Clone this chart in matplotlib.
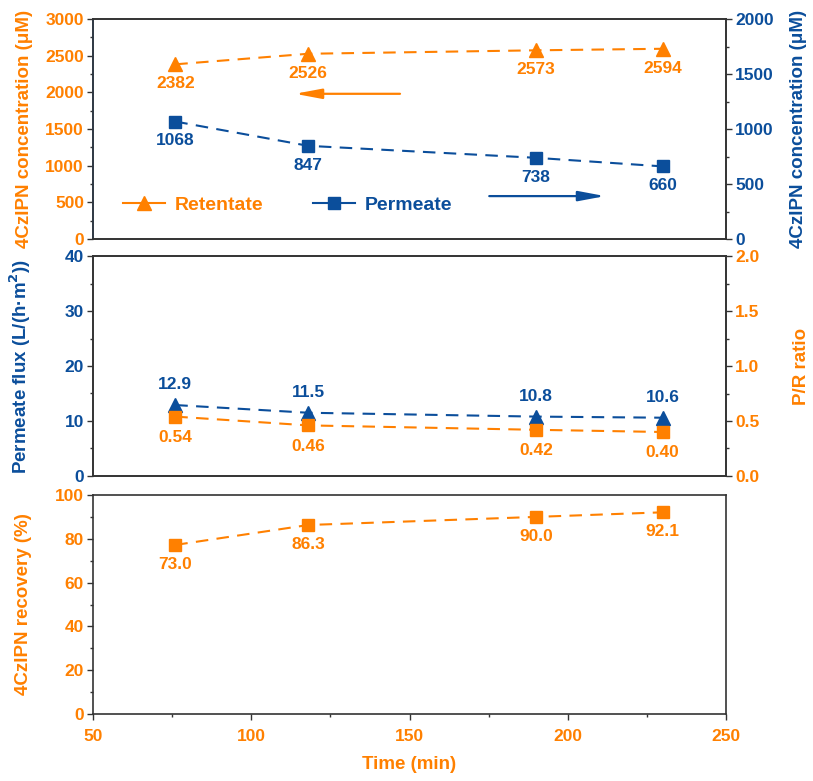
import matplotlib.pyplot as plt
from matplotlib.lines import Line2D
from matplotlib.ticker import MultipleLocator

plt.rcParams['font.family'] = ['Liberation Sans', 'DejaVu Sans']
plt.rcParams['font.weight'] = 'bold'

ORANGE = '#FF8000'
BLUE = '#0B4E9B'
SPINE = '#333333'

# data
time = [76, 118, 190, 230]
retentate = [2382, 2526, 2573, 2594]
permeate = [1068, 847, 738, 660]
flux = [12.9, 11.5, 10.8, 10.6]
pr_ratio = [0.54, 0.46, 0.42, 0.40]
recovery = [77.2, 86.3, 90.0, 92.1]
recovery_labels = ['73.0', '86.3', '90.0', '92.1']

fig = plt.figure(figsize=(8.13, 7.81), dpi=100)
left, width = 93 / 813, 633 / 813
TICK_FS = 12.5
ANN_FS = 12.5
LAB_FS = 13.5


def pos(top_px, bot_px):
    return [left, 1 - bot_px / 781, width, (bot_px - top_px) / 781]


def style_axis(ax, color, which='y'):
    ax.tick_params(axis=which, which='both', direction='out', colors=SPINE,
                   labelcolor=color, labelsize=TICK_FS, pad=2)
    ax.tick_params(axis=which, which='major', length=4.5, width=1)
    ax.tick_params(axis=which, which='minor', length=2.5, width=1)
    for s in ax.spines.values():
        s.set_color(SPINE)
        s.set_linewidth(1.2)


def label_points(ax, xs, ys, texts, color, dy):
    for x, y, s in zip(xs, ys, texts):
        ax.annotate(s, (x, y), xytext=(0, dy), textcoords='offset points',
                    ha='center', va='center', color=color, fontsize=ANN_FS,
                    fontweight='bold')


line_kw = dict(linestyle=(0, (6, 4)), linewidth=1.5)

# ---- top panel: concentrations
ax1 = fig.add_axes(pos(19, 239))
ax1b = ax1.twinx()
ax1.plot(time, retentate, color=ORANGE, marker='^', markersize=10, **line_kw)
ax1b.plot(time, permeate, color=BLUE, marker='s', markersize=8, **line_kw)
label_points(ax1, time, retentate, [str(v) for v in retentate], ORANGE, -14)
label_points(ax1b, time, permeate, [str(v) for v in permeate], BLUE, -14)
ax1.set_xlim(50, 250)
ax1.set_ylim(0, 3000)
ax1b.set_ylim(0, 2000)
ax1.yaxis.set_major_locator(MultipleLocator(500))
ax1.yaxis.set_minor_locator(MultipleLocator(250))
ax1b.yaxis.set_major_locator(MultipleLocator(500))
ax1b.yaxis.set_minor_locator(MultipleLocator(250))
style_axis(ax1, ORANGE)
style_axis(ax1b, BLUE)
ax1.spines['left'].set_color(BLUE)
ax1.set_xticks([])
ax1b.set_xticks([])
ax1.set_ylabel('4CzIPN concentration (μM)', color=ORANGE, fontsize=LAB_FS,
               fontweight='bold')
ax1.yaxis.set_label_coords(-0.095, 0.5)
ax1b.set_ylabel('4CzIPN concentration (μM)', color=BLUE, fontsize=LAB_FS,
                fontweight='bold')
ax1b.yaxis.set_label_coords(1.101, 0.5)
arrow = dict(arrowstyle='-|>,head_length=0.8,head_width=0.15', lw=1.6,
             mutation_scale=20, shrinkA=0, shrinkB=0)
ax1.annotate('', xy=(0.319, 0.66), xytext=(0.485, 0.66), xycoords='axes fraction',
             arrowprops=dict(color=ORANGE, **arrow))
ax1.annotate('', xy=(0.809, 0.195), xytext=(0.626, 0.195), xycoords='axes fraction',
             arrowprops=dict(color=BLUE, **arrow))
handles = [Line2D([], [], color=ORANGE, marker='^', markersize=10, lw=1.5),
           Line2D([], [], color=BLUE, marker='s', markersize=8, lw=1.5)]
leg = ax1.legend(handles, ['Retentate', 'Permeate'], loc='center left',
                 bbox_to_anchor=(0.047, 0.155), borderaxespad=0, borderpad=0,
                 ncol=2, frameon=False, fontsize=14, handlelength=2.15,
                 columnspacing=2.6, handletextpad=0.5)
for t, c in zip(leg.get_texts(), [ORANGE, BLUE]):
    t.set_color(c)

# ---- middle panel: flux and P/R ratio
ax2 = fig.add_axes(pos(256, 476))
ax2b = ax2.twinx()
ax2.plot(time, flux, color=BLUE, marker='^', markersize=10, **line_kw)
ax2b.plot(time, pr_ratio, color=ORANGE, marker='s', markersize=8, **line_kw)
label_points(ax2, time, flux, [f'{v:.1f}' for v in flux], BLUE, 14.5)
label_points(ax2b, time, pr_ratio, [f'{v:.2f}' for v in pr_ratio], ORANGE, -15)
ax2.set_xlim(50, 250)
ax2.set_ylim(0, 40)
ax2b.set_ylim(0, 2.0)
ax2.yaxis.set_major_locator(MultipleLocator(10))
ax2.yaxis.set_minor_locator(MultipleLocator(5))
ax2b.yaxis.set_major_locator(MultipleLocator(0.5))
ax2b.yaxis.set_minor_locator(MultipleLocator(0.25))
ax2b.yaxis.set_major_formatter(lambda v, p: f'{v:.1f}')
style_axis(ax2, BLUE)
style_axis(ax2b, ORANGE)
ax2.set_xticks([])
ax2b.set_xticks([])
ax2.set_ylabel('Permeate flux (L/(h·m$^\\mathbf{2}$))', color=BLUE, fontsize=LAB_FS,
               fontweight='bold')
ax2.yaxis.set_label_coords(-0.095, 0.5)
ax2b.set_ylabel('P/R ratio', color=ORANGE, fontsize=LAB_FS, fontweight='bold')
ax2b.yaxis.set_label_coords(1.106, 0.5)

# ---- bottom panel: recovery
ax3 = fig.add_axes(pos(495, 714))
ax3.plot(time, recovery, color=ORANGE, marker='s', markersize=8, **line_kw)
label_points(ax3, time, recovery, recovery_labels, ORANGE, -14)
ax3.set_xlim(50, 250)
ax3.set_ylim(0, 100)
ax3.yaxis.set_major_locator(MultipleLocator(20))
ax3.yaxis.set_minor_locator(MultipleLocator(10))
ax3.xaxis.set_major_locator(MultipleLocator(50))
ax3.xaxis.set_minor_locator(MultipleLocator(25))
style_axis(ax3, ORANGE, which='both')
ax3.tick_params(axis='x', which='major', pad=6)
ax3.set_ylabel('4CzIPN recovery (%)', color=ORANGE, fontsize=LAB_FS,
               fontweight='bold')
ax3.yaxis.set_label_coords(-0.096, 0.5)
ax3.set_xlabel('Time (min)', color=ORANGE, fontsize=LAB_FS, fontweight='bold')
ax3.xaxis.set_label_coords(0.5, -0.19)

fig.savefig('out.png', dpi=100)
